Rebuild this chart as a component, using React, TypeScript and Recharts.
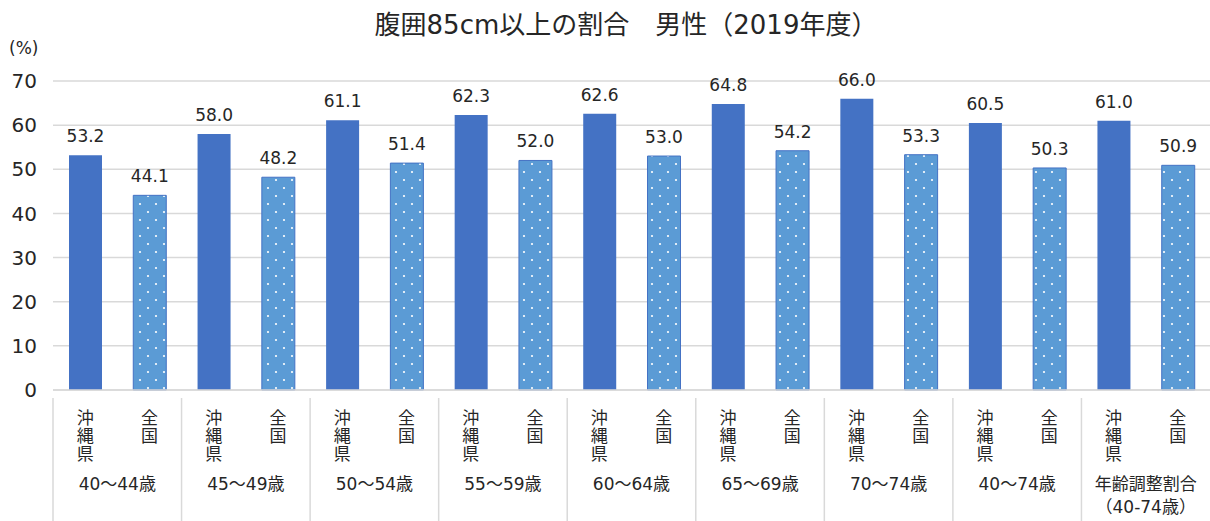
import React from "react";
import { BarChart, Bar, XAxis, YAxis, CartesianGrid, LabelList, Cell } from "recharts";

const groups = [
  "40～44歳",
  "45～49歳",
  "50～54歳",
  "55～59歳",
  "60～64歳",
  "65～69歳",
  "70～74歳",
  "40～74歳",
  "年齢調整割合\n（40-74歳）",
];
const areas = ["沖縄県", "全国"];
const okinawa = [53.2, 58.0, 61.1, 62.3, 62.6, 64.8, 66.0, 60.5, 61.0];
const national = [44.1, 48.2, 51.4, 52.0, 53.0, 54.2, 53.3, 50.3, 50.9];
const yTicks = [0, 10, 20, 30, 40, 50, 60, 70];

const data = groups.flatMap((g, i) => [
  { key: `${i}-0`, group: g, area: areas[0], value: okinawa[i] },
  { key: `${i}-1`, group: g, area: areas[1], value: national[i] },
]);

const W = 1210;
const H = 521;
const PLOT_LEFT = 53;
const SLOT = (W - PLOT_LEFT) / data.length;
const FONT = "'DejaVu Sans', 'Noto Sans CJK JP', sans-serif";
const TEXT = "#262626";

const CategoryTick = (props: any) => {
  const { x, y, index } = props;
  const d = data[index];
  if (!d) return null;
  const chars = d.area.split("");
  const isFirst = index % 2 === 0;
  const groupLines = d.group.split("\n");
  return (
    <g>
      {chars.map((c: string, i: number) => (
        <text
          key={i}
          x={x}
          y={y + 26 + i * 18}
          textAnchor="middle"
          fontSize={17}
          fill={TEXT}
          fontFamily={FONT}
        >
          {c}
        </text>
      ))}
      {isFirst && (
        <>
          <line x1={x - SLOT / 2} y1={y} x2={x - SLOT / 2} y2={H} stroke="#d9d9d9" strokeWidth={1.5} />
          {groupLines.map((l: string, i: number) => (
            <text
              key={"g" + i}
              x={x + SLOT / 2}
              y={y + 92 + i * 23}
              textAnchor="middle"
              fontSize={17}
              fill={TEXT}
              fontFamily={FONT}
            >
              {l}
            </text>
          ))}
        </>
      )}
    </g>
  );
};

export default function App() {
  return (
    <div style={{ position: "fixed", left: 0, top: 0, width: W, height: H, background: "#fff", fontFamily: FONT }}>
      <div
        style={{
          position: "absolute",
          top: 4,
          left: 0,
          width: 1252,
          textAlign: "center",
          fontSize: 26,
          color: TEXT,
        }}
      >
        腹囲85cm以上の割合　男性（2019年度）
      </div>
      <div style={{ position: "absolute", top: 38, left: 9, fontSize: 17, color: TEXT }}>(%)</div>
      <BarChart width={W} height={H} data={data} margin={{ top: 81, right: 0, bottom: 0, left: 0 }}>
        <defs>
          <pattern id="dots" width="16" height="16" patternUnits="userSpaceOnUse">
            <rect width="16" height="16" fill="#5b9bd5" />
            <circle cx="4" cy="4" r="1.1" fill="#fff" />
            <circle cx="12" cy="12" r="1.1" fill="#fff" />
          </pattern>
        </defs>
        <CartesianGrid vertical={false} stroke="#d9d9d9" strokeWidth={1.5} />
        <XAxis
          dataKey="key"
          interval={0}
          height={H - 390}
          tickLine={false}
          axisLine={{ stroke: "#d9d9d9", strokeWidth: 1.5 }}
          tick={<CategoryTick />}
        />
        <YAxis
          width={PLOT_LEFT}
          domain={[0, 70]}
          ticks={yTicks}
          axisLine={false}
          tickLine={false}
          tickMargin={10}
          tick={{ fontSize: 20, fill: TEXT, fontFamily: FONT }}
        />
        <Bar dataKey="value" barSize={33} isAnimationActive={false}>
          {data.map((d, i) => (
            <Cell
              key={i}
              fill={i % 2 === 0 ? "#4472c4" : "url(#dots)"}
              stroke={i % 2 === 0 ? "none" : "#4472c4"}
              strokeWidth={1}
            />
          ))}
          <LabelList
            dataKey="value"
            position="top"
            offset={13}
            formatter={(v: any) => Number(v).toFixed(1)}
            style={{ fontSize: 17, fill: TEXT, fontFamily: FONT }}
          />
        </Bar>
      </BarChart>
    </div>
  );
}
